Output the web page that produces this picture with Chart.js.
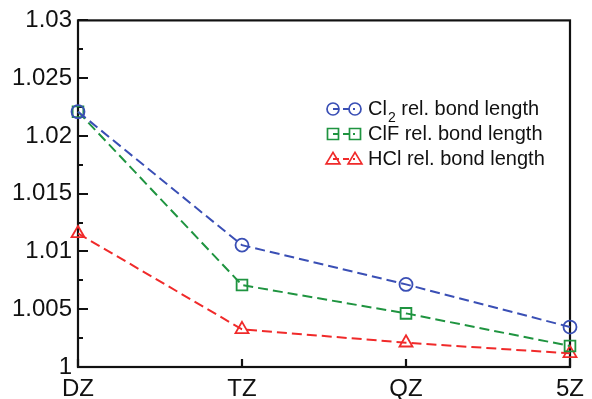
<!DOCTYPE html>
<html>
<head>
<meta charset="utf-8">
<script src="https://cdn.jsdelivr.net/npm/chart.js@4.4.1/dist/chart.umd.min.js"></script>
<style>
  html, body { margin: 0; padding: 0; background: #fff; }
  #wrap { width: 592px; height: 399px; }
</style>
</head>
<body>
<div id="wrap"><canvas id="myChart" width="592" height="399"></canvas></div>
<script>
const basisSets = ['DZ', 'TZ', 'QZ', '5Z'];
const cl2Values = [1.0221, 1.01055, 1.00715, 1.00346];
const clfValues = [1.0221, 1.00709, 1.00464, 1.00182];
const hclValues = [1.01156, 1.00326, 1.0021, 1.00118];
const yTickLabels = ['1', '1.005', '1.01', '1.015', '1.02', '1.025', '1.03'];

const FONT = '"Liberation Sans", Arial, Helvetica, sans-serif';

function marker(ctx, style, x, y, r) {
  ctx.beginPath();
  if (style === 'circle') {
    ctx.arc(x, y, r, 0, Math.PI * 2);
  } else if (style === 'rect') {
    ctx.rect(x - r, y - r, r * 2, r * 2);
  } else {
    ctx.moveTo(x, y - r * 1.1);
    ctx.lineTo(x + r * 1.15, y + r * 0.8);
    ctx.lineTo(x - r * 1.15, y + r * 0.8);
    ctx.closePath();
  }
  ctx.stroke();
}

// frame + inward ticks
const framePlugin = {
  id: 'frame',
  beforeDatasetsDraw(chart) {
    const { ctx, chartArea: a, scales } = chart;
    ctx.save();
    ctx.strokeStyle = '#111';
    ctx.lineWidth = 2.2;
    ctx.strokeRect(a.left, a.top, a.right - a.left, a.bottom - a.top);
    ctx.beginPath();
    for (let v = 1; v <= 1.03 + 1e-9; v += 0.0025) {
      const y = Math.round(scales.y.getPixelForValue(v));
      const major = Math.abs(Math.round(v * 200) - v * 200) < 1e-6;
      ctx.moveTo(a.left, y);
      ctx.lineTo(a.left + (major ? 10 : 5), y);
    }
    basisSets.forEach((b, i) => {
      const x = Math.round(scales.x.getPixelForValue(i));
      ctx.moveTo(x, a.bottom);
      ctx.lineTo(x, a.bottom - 8);
    });
    ctx.stroke();
    ctx.restore();
  }
};

// legend drawn inside the plot
const legendPlugin = {
  id: 'insideLegend',
  afterDraw(chart) {
    const { ctx } = chart;
    const x0 = 333, x1 = 355, xt = 368;
    const rows = [109, 134, 159];
    ctx.save();
    chart.data.datasets.forEach((ds, i) => {
      const y = rows[i];
      ctx.strokeStyle = ds.borderColor;
      ctx.lineWidth = 2;
      ctx.setLineDash([6, 4]);
      ctx.beginPath();
      ctx.moveTo(x0, y);
      ctx.lineTo(x1, y);
      ctx.stroke();
      ctx.setLineDash([]);
      ctx.lineWidth = 1.7;
      marker(ctx, ds.pointStyle, x0, y, ds.legendR);
      marker(ctx, ds.pointStyle, x1, y, ds.legendR);

      ctx.fillStyle = '#111';
      ctx.textBaseline = 'middle';
      ctx.textAlign = 'left';
      const parts = ds.label.split('₂');
      let x = xt;
      ctx.font = '20px ' + FONT;
      ctx.fillText(parts[0], x, y);
      x += ctx.measureText(parts[0]).width;
      if (parts.length > 1) {
        ctx.font = '14px ' + FONT;
        ctx.fillText('2', x + 1, y + 9);
        x += ctx.measureText('2').width + 1;
        ctx.font = '20px ' + FONT;
        ctx.fillText(parts[1], x, y);
      }
    });
    ctx.restore();
  }
};

const datasets = [
  { label: 'Cl₂ rel. bond length', data: cl2Values, borderColor: '#3a4fb5', pointStyle: 'circle', pointRadius: 6.5, legendR: 6 },
  { label: 'ClF rel. bond length', data: clfValues, borderColor: '#1f9440', pointStyle: 'rect', pointRadius: 7.6, legendR: 5.5 },
  { label: 'HCl rel. bond length', data: hclValues, borderColor: '#f02a2a', pointStyle: 'triangle', pointRadius: 7.5, legendR: 6 },
].map(d => ({
  ...d,
  backgroundColor: 'rgba(0,0,0,0)',
  pointBackgroundColor: 'rgba(0,0,0,0)',
  pointBorderColor: d.borderColor,
  pointBorderWidth: 1.8,
  borderWidth: 2,
  borderDash: [10, 5],
  tension: 0,
  fill: false,
  clip: false,
}));

new Chart(document.getElementById('myChart'), {
  type: 'line',
  data: { labels: basisSets, datasets },
  options: {
    responsive: false,
    animation: false,
    events: [],
    layout: { padding: { left: 0, top: 20, right: 18, bottom: 0 } },
    plugins: { legend: { display: false }, tooltip: { enabled: false } },
    scales: {
      x: {
        offset: false,
        grid: { display: false, drawTicks: false },
        border: { display: false },
        ticks: { color: '#111', font: { family: FONT, size: 24 }, padding: 8, maxRotation: 0, autoSkip: false },
        afterFit(s) { s.height = 32; },
      },
      y: {
        min: 1,
        max: 1.03,
        grid: { display: false, drawTicks: false },
        border: { display: false },
        afterBuildTicks(s) { s.ticks = yTickLabels.map(t => ({ value: parseFloat(t) })); },
        ticks: {
          color: '#111',
          font: { family: FONT, size: 24 },
          padding: 6,
          callback: (v, i) => yTickLabels[i],
        },
        afterFit(s) { s.width = 78; },
      },
    },
  },
  plugins: [framePlugin, legendPlugin],
});
</script>
</body>
</html>
